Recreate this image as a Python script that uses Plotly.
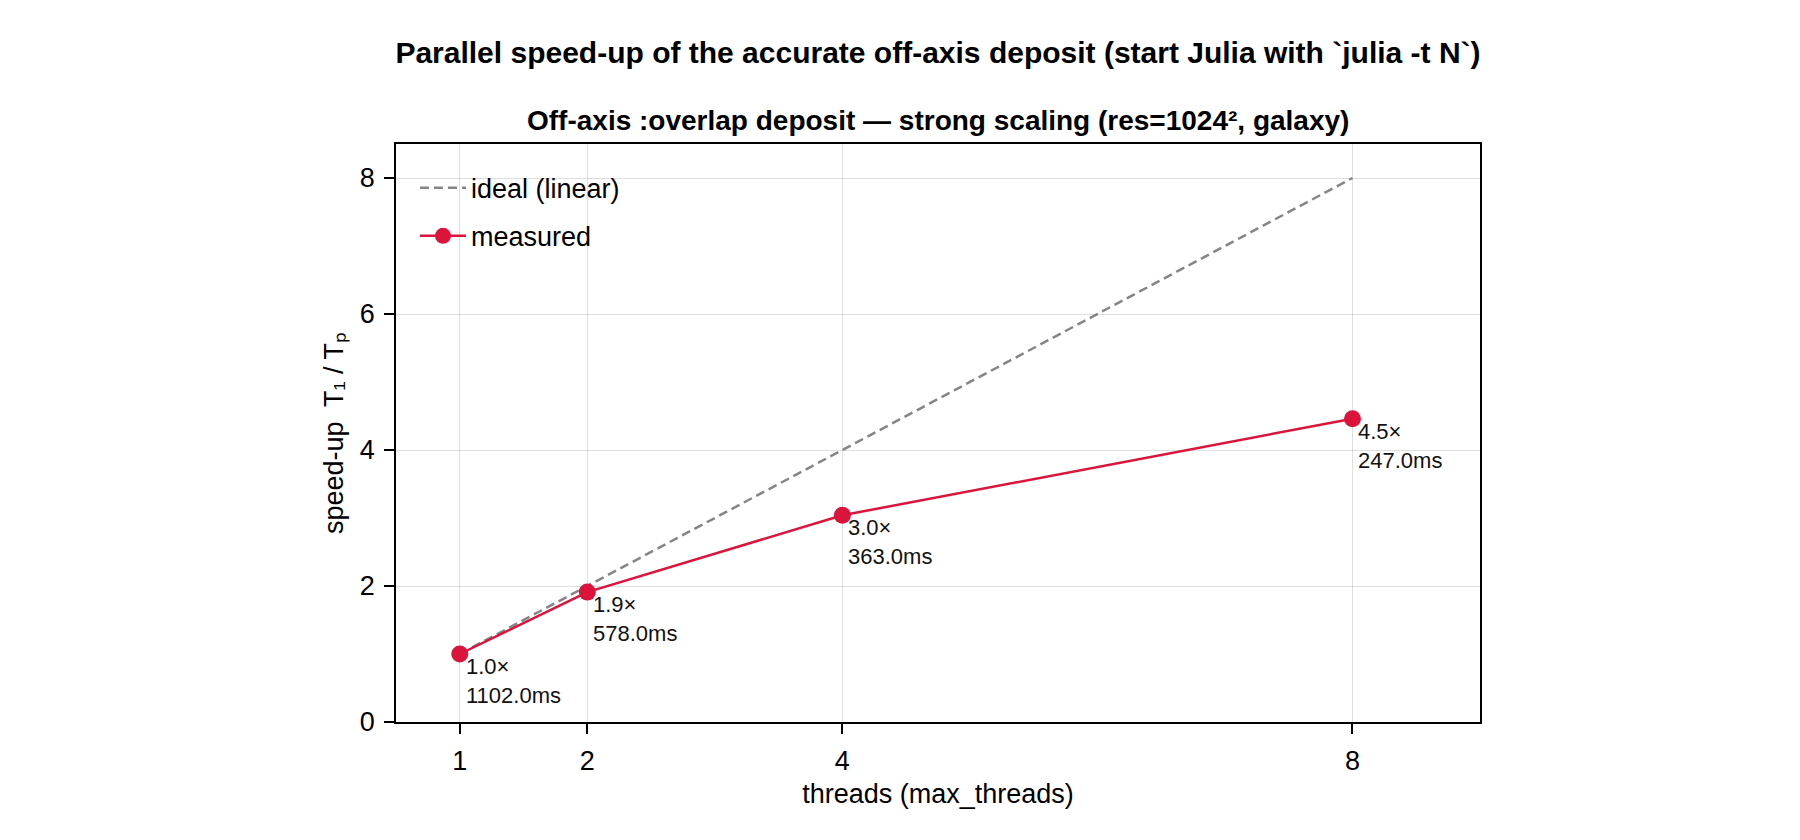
import plotly.graph_objects as go

threads = [1, 2, 4, 8]
ideal = [1, 2, 4, 8]
speedup = [1.0, 1.91, 3.04, 4.46]
speedup_labels = ["1.0×", "1.9×", "3.0×", "4.5×"]
time_labels = ["1102.0ms", "578.0ms", "363.0ms", "247.0ms"]

FONT = "Liberation Sans"
RED = "#DC143C"

fig = go.Figure()
fig.add_trace(go.Scatter(
    x=threads, y=ideal, mode="lines", name="ideal (linear)",
    line=dict(color="rgba(120,120,120,0.9)", width=2.5, dash="9px,5px"),
    legendgroup="a",
))
fig.add_trace(go.Scatter(
    x=threads, y=speedup, mode="lines+markers", name="measured",
    line=dict(color=RED, width=2.5),
    marker=dict(color=RED, size=17),
    legendgroup="b",
))

for x, y, s, t in zip(threads, speedup, speedup_labels, time_labels):
    fig.add_annotation(
        x=x, y=y, xref="x", yref="y", text=f"{s}<br>{t}",
        showarrow=False, xanchor="left", yanchor="top", align="left",
        xshift=4, yshift=2, font=dict(family=FONT, size=22, color="#111"),
    )

fig.add_annotation(
    text="<b>Off-axis :overlap deposit — strong scaling (res=1024², galaxy)</b>",
    xref="paper", yref="paper", x=0.5, y=1.0407, xanchor="center", yanchor="middle",
    showarrow=False, font=dict(family=FONT, size=28, color="black"),
)

axis_common = dict(
    showline=True, linecolor="black", linewidth=1.5, mirror=True,
    ticks="outside", ticklen=10, tickwidth=1.5, tickcolor="black",
    showgrid=True, gridcolor="rgba(0,0,0,0.12)", gridwidth=1,
    zeroline=False, tickfont=dict(family=FONT, size=27, color="black"),
)

fig.update_layout(
    width=1800, height=840,
    paper_bgcolor="white", plot_bgcolor="white",
    margin=dict(l=396, r=320, t=144, b=118),
    title=dict(
        text="<b>Parallel speed-up of the accurate off-axis deposit (start Julia with `julia -t N`)</b>",
        x=0.5211, xanchor="center", y=1 - 52 / 840, yanchor="middle", yref="container",
        font=dict(family=FONT, size=30, color="black"),
    ),
    xaxis=dict(
        range=[0.5, 9.0], tickvals=threads, ticktext=[str(t) for t in threads],
        title=dict(text="threads (max_threads)", standoff=9,
                   font=dict(family=FONT, size=27, color="black")),
        ticklabelstandoff=4,
        **axis_common,
    ),
    yaxis=dict(
        range=[0, 8.5], tickvals=[0, 2, 4, 6, 8],
        title=dict(text="speed-up  T₁ / Tₚ", standoff=8,
                   font=dict(family=FONT, size=27, color="black")),
        ticklabelstandoff=4,
        **axis_common,
    ),
    legend=dict(
        x=0.0175, y=0.966, xanchor="left", yanchor="top",
        bgcolor="rgba(0,0,0,0)", borderwidth=0,
        font=dict(family=FONT, size=27, color="black"),
        tracegroupgap=10, traceorder="grouped", itemwidth=46,
    ),
    showlegend=True,
)

fig.write_html("out.html")
